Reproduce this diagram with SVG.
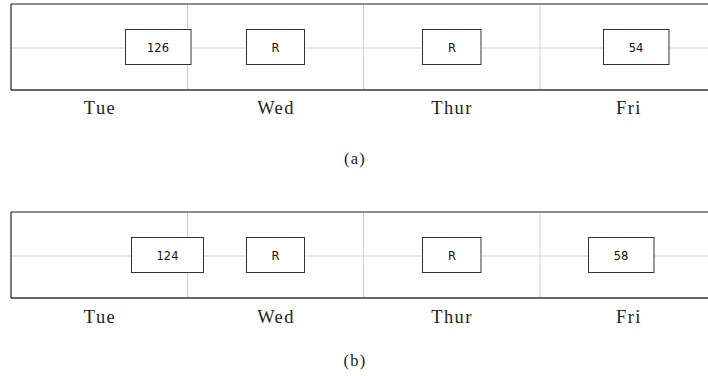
<svg xmlns="http://www.w3.org/2000/svg" width="708" height="376" viewBox="0 0 708 376">
  <style>
    .grid { stroke: #cfcfcf; stroke-width: 1; fill: none; }
    .frame { stroke: #333; stroke-width: 1.3; fill: none; }
    .frameTop { stroke: #666; stroke-width: 1.3; fill: none; }
    .box rect { fill: #fff; stroke: #333; stroke-width: 1; }
    .box text { font-family: "DejaVu Sans", "Liberation Sans", sans-serif; font-size: 11.5px; fill: #111; text-anchor: middle; }
    .day { font-family: "Liberation Serif", "DejaVu Serif", serif; font-size: 18.5px; letter-spacing: 1.4px; fill: #222; text-anchor: middle; }
    .cap { font-family: "Liberation Serif", "DejaVu Serif", serif; font-size: 16.5px; letter-spacing: 1.2px; fill: #222; text-anchor: middle; }
  </style>
  <rect width="708" height="376" fill="#fff"/>

  <!-- Panel (a) -->
  <g id="panel-a">
    <g id="connectors-a">
      <line class="grid" x1="11" y1="48" x2="708" y2="48"/>
      <line class="grid" x1="187.5" y1="4" x2="187.5" y2="90"/>
      <line class="grid" x1="363.5" y1="4" x2="363.5" y2="90"/>
      <line class="grid" x1="540" y1="4" x2="540" y2="90"/>
    </g>
    <line class="frameTop" x1="11" y1="4" x2="708" y2="4"/>
    <line class="frame" x1="11" y1="4" x2="11" y2="90"/>
    <line class="frame" x1="11" y1="90" x2="708" y2="90"/>
    <g id="a-tue" class="box"><rect x="125.5" y="29.5" width="65.5" height="35"/><text x="158" y="51.5">126</text></g>
    <g id="a-wed" class="box"><rect x="246.5" y="29.5" width="58" height="35"/><text x="275.5" y="51.5">R</text></g>
    <g id="a-thur" class="box"><rect x="422.5" y="29.5" width="58.5" height="35"/><text x="452" y="51.5">R</text></g>
    <g id="a-fri" class="box"><rect x="603.5" y="29.5" width="65.5" height="35"/><text x="636" y="51.5">54</text></g>
    <text class="day" x="100" y="114">Tue</text>
    <text class="day" x="276" y="114">Wed</text>
    <text class="day" x="452" y="114">Thur</text>
    <text class="day" x="629" y="114">Fri</text>
    <text class="cap" x="355" y="164">(a)</text>
  </g>

  <!-- Panel (b) -->
  <g id="panel-b">
    <g id="connectors-b">
      <line class="grid" x1="11" y1="256" x2="708" y2="256"/>
      <line class="grid" x1="187.5" y1="212" x2="187.5" y2="298"/>
      <line class="grid" x1="363.5" y1="212" x2="363.5" y2="298"/>
      <line class="grid" x1="540" y1="212" x2="540" y2="298"/>
    </g>
    <line class="frameTop" x1="11" y1="212" x2="708" y2="212"/>
    <line class="frame" x1="11" y1="212" x2="11" y2="298"/>
    <line class="frame" x1="11" y1="298" x2="708" y2="298"/>
    <g id="b-tue" class="box"><rect x="131.5" y="237.5" width="72" height="35"/><text x="167.5" y="259.5">124</text></g>
    <g id="b-wed" class="box"><rect x="246.5" y="237.5" width="58" height="35"/><text x="275.5" y="259.5">R</text></g>
    <g id="b-thur" class="box"><rect x="422.5" y="237.5" width="58.5" height="35"/><text x="452" y="259.5">R</text></g>
    <g id="b-fri" class="box"><rect x="588.5" y="237.5" width="65.5" height="35"/><text x="621" y="259.5">58</text></g>
    <text class="day" x="100" y="323">Tue</text>
    <text class="day" x="276" y="323">Wed</text>
    <text class="day" x="452" y="323">Thur</text>
    <text class="day" x="629" y="323">Fri</text>
    <text class="cap" x="355" y="366">(b)</text>
  </g>
</svg>
